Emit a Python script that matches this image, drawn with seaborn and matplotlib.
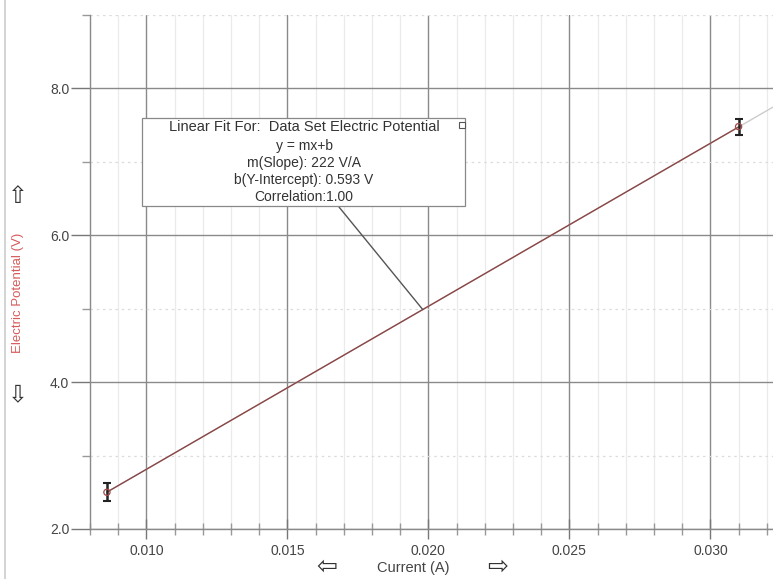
import matplotlib
matplotlib.use("Agg")
import matplotlib.pyplot as plt
import seaborn as sns
import numpy as np
import pandas as pd
from matplotlib.patches import Rectangle
from matplotlib.lines import Line2D
from matplotlib.ticker import MultipleLocator, FormatStrFormatter

# ---- data ----
current = [0.0086, 0.0310]          # A
potential = [2.50, 7.48]            # V
potential_err = [0.12, 0.11]
fit_slope = 222.0
fit_intercept = 0.593
fit_label_x = 0.0198
x_ticks = [0.010, 0.015, 0.020, 0.025, 0.030]
y_ticks = [2.0, 4.0, 6.0, 8.0]
fit_text = ["Linear Fit For:  Data Set Electric Potential",
            "y = mx+b",
            "m(Slope): 222 V/A",
            "b(Y-Intercept): 0.593 V",
            "Correlation:1.00"]

sns.set_theme(style="white")
plt.rcParams['font.family'] = ['Liberation Sans', 'DejaVu Sans']

W, H = 773, 579
fig = plt.figure(figsize=(W / 100, H / 100), dpi=100)
L, R, T, B = 90, 773, 15, 529
ax = fig.add_axes([L / W, (H - B) / H, (R - L) / W, (B - T) / H])

xmin, xmax = 0.008, 0.03222
ax.set_xlim(xmin, xmax)
ax.set_ylim(2.0, 9.0)

# grid
ax.xaxis.set_major_locator(MultipleLocator(0.005))
ax.xaxis.set_minor_locator(MultipleLocator(0.001))
ax.yaxis.set_major_locator(MultipleLocator(2.0))
ax.yaxis.set_minor_locator(MultipleLocator(1.0))
ax.set_xticks(x_ticks)
ax.set_yticks(y_ticks)
ax.xaxis.set_major_formatter(FormatStrFormatter('%.3f'))
ax.yaxis.set_major_formatter(FormatStrFormatter('%.1f'))
ax.grid(which='major', axis='both', color='#8a8a8a', linewidth=1.0)
ax.grid(which='minor', axis='x', color='#ebebeb', linewidth=0.9)
ax.grid(which='minor', axis='y', color='#dcdcdc', linewidth=0.9, linestyle=(0, (2, 3)))
ax.set_axisbelow(True)

for s in ['top', 'right']:
    ax.spines[s].set_visible(False)
for s in ['left', 'bottom']:
    ax.spines[s].set_color('#8a8a8a')
    ax.spines[s].set_linewidth(1.0)

ax.tick_params(which='major', axis='y', direction='out', length=14, width=1,
               color='#777777', labelsize=10, labelcolor='#444444', pad=1)
ax.tick_params(which='minor', axis='y', direction='out', length=6, width=1, color='#999999')
ax.tick_params(which='major', axis='x', direction='inout', length=14, width=1,
               color='#777777', labelsize=10, labelcolor='#444444', pad=4)
ax.tick_params(which='minor', axis='x', direction='inout', length=8, width=1, color='#999999')
ax.tick_params(left=True, bottom=True, which='both')

# fit line
xf_full = np.array([current[0], xmax])
ax.plot(xf_full, fit_slope * xf_full + fit_intercept, color='#cccccc', linewidth=1.0, zorder=3)
xf = np.array([current[0], current[-1]])
df_fit = pd.DataFrame({"x": xf, "y": fit_slope * xf + fit_intercept})
sns.lineplot(data=df_fit, x="x", y="y", ax=ax, color='#8b4545', linewidth=1.0, zorder=4)

# data with error bars
df = pd.DataFrame({"I": current, "V": potential})
ax.errorbar(current, potential, yerr=potential_err, fmt='none', ecolor='#222222',
            elinewidth=1.8, capsize=3, capthick=1.5, zorder=5)
sns.scatterplot(data=df, x="I", y="V", ax=ax, marker='o', s=20, facecolor='none',
                edgecolor='#a04848', linewidth=0.9, zorder=6)
ax.set_xlabel("")
ax.set_ylabel("")

# annotation box
bx0, by0, bx1, by1 = 142, 118, 465, 206
box = Rectangle((bx0 / W, 1 - by1 / H), (bx1 - bx0) / W, (by1 - by0) / H,
                transform=fig.transFigure, facecolor='white', edgecolor='#888888',
                linewidth=0.9, zorder=10)
fig.add_artist(box)
fig.add_artist(Rectangle((459 / W, 1 - 128 / H), 6 / W, 6 / H, transform=fig.transFigure,
                         facecolor='white', edgecolor='#555555', linewidth=0.8, zorder=11))
ys = [127, 146, 163, 180, 197]
sizes = [10.5, 10, 10, 10, 10]
for t, yy, fs in zip(fit_text, ys, sizes):
    fig.text(304 / W, 1 - yy / H, t, ha='center', va='center', fontsize=fs,
             color='#333333', zorder=12)

# leader line from box to fit line
ly = fit_slope * fit_label_x + fit_intercept
pt = ax.transData.transform((fit_label_x, ly))
pf = fig.transFigure.inverted().transform(pt)
fig.add_artist(Line2D([339 / W, pf[0]], [1 - 207 / H, pf[1]], transform=fig.transFigure,
                      color='#555555', linewidth=1.0, zorder=9))

# axis labels with arrows
fig.text(18 / W, 1 - 293 / H, "Electric Potential (V)", rotation=90, ha='center',
         va='center', fontsize=9.5, color='#d65a5a')
fig.text(18 / W, 1 - 196 / H, "\u21e7", ha='center', va='center', fontsize=17,
         color='#333333', family=['DejaVu Sans'])
fig.text(18 / W, 1 - 394 / H, "\u21e9", ha='center', va='center', fontsize=17,
         color='#333333', family=['DejaVu Sans'])
fig.text(413 / W, 1 - 568 / H, "Current (A)", ha='center', va='center', fontsize=10.5,
         color='#444444')
fig.text(327 / W, 1 - 567 / H, "\u21e6", ha='center', va='center', fontsize=18,
         color='#333333', family=['DejaVu Sans'])
fig.text(498 / W, 1 - 567 / H, "\u21e8", ha='center', va='center', fontsize=18,
         color='#333333', family=['DejaVu Sans'])

# window border line on the left
fig.add_artist(Line2D([5 / W, 5 / W], [0, 1], transform=fig.transFigure,
                      color='#cccccc', linewidth=1.2))

fig.savefig("out.png", dpi=100)
